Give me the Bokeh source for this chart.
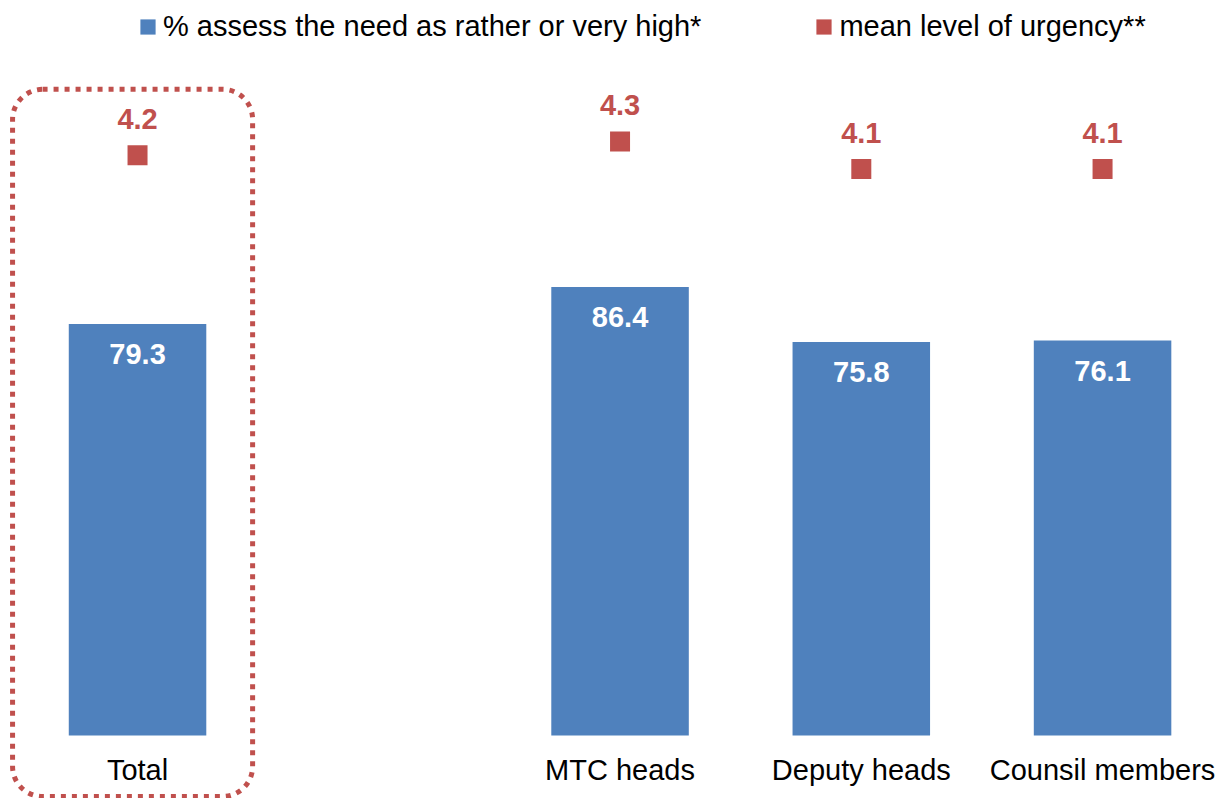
from bokeh.plotting import figure
from bokeh.models import Range1d, Legend, LegendItem, BoxAnnotation, ColumnDataSource
from bokeh.core.properties import value
from bokeh.embed import file_html
from bokeh.resources import INLINE

# Category slots (a blank slot separates the total from the breakdown)
groups = ["Total", "", "MTC heads", "Deputy heads", "Counsil members"]
bar_groups = ["Total", "MTC heads", "Deputy heads", "Counsil members"]

# % assessing the need as rather or very high
share_high = [79.3, 86.4, 75.8, 76.1]
# Mean level of urgency
urgency = [4.2, 4.3, 4.1, 4.1]

BLUE = "#4F81BD"
RED = "#C0504D"
FONT = "Liberation Sans"

# slot index of each category along the x scale
slot = {g: i for i, g in enumerate(groups)}
bar_x = [slot[g] for g in bar_groups]

p = figure(
    width=1221, height=798,
    x_range=Range1d(-0.568, 4.493),
    y_range=Range1d(-12.14, 141.62),
    x_axis_location=None, y_axis_location=None,
    output_backend="svg", toolbar_location=None,
    min_border=0, outline_line_color=None,
)
p.extra_y_ranges = {"urg": Range1d(-0.456, 5.32)}
p.grid.visible = False

src = ColumnDataSource(dict(
    x=bar_x,
    name=bar_groups,
    base=[0] * len(bar_groups),
    share=share_high,
    share_lbl=[f"{v:.1f}" for v in share_high],
    urg=urgency,
    urg_lbl=[f"{v:.1f}" for v in urgency],
))

bars = p.vbar(x="x", top="share", width=0.57, source=src,
              fill_color=BLUE, line_color=None)
p.text(x="x", y="share", text="share_lbl", source=src, y_offset=30,
       text_align="center", text_baseline="middle",
       text_color="white", text_font=value(FONT),
       text_font_style="bold", text_font_size="29px")

squares = p.rect(x="x", y="urg", width=20, height=20,
                 width_units="screen", height_units="screen",
                 source=src, y_range_name="urg",
                 fill_color=RED, line_color=None)
p.text(x="x", y="urg", text="urg_lbl", source=src, y_range_name="urg",
       y_offset=-36, text_align="center", text_baseline="middle",
       text_color=RED, text_font=value(FONT),
       text_font_style="bold", text_font_size="29px")

# category names under the baseline
p.text(x="x", y="base", text="name", source=src, y_offset=35,
       text_align="center", text_baseline="middle",
       text_color="black", text_font=value(FONT), text_font_size="29px")

# Dotted rounded frame around the total
p.add_layout(BoxAnnotation(
    left=-0.518, right=0.477, bottom=-11.75, top=124.5,
    fill_alpha=0, line_color=RED, line_alpha=1.0, line_width=5,
    line_dash="5 6", border_radius=30,
))

legend = Legend(
    items=[
        LegendItem(label="% assess the need as rather or very high*", renderers=[bars]),
        LegendItem(label="mean level of urgency**", renderers=[squares]),
    ],
    orientation="horizontal", location=(138, 755),
    glyph_width=19, glyph_height=19, label_standoff=6, spacing=113,
    padding=0, margin=0, border_line_color=None, background_fill_alpha=0,
    label_text_font=FONT, label_text_font_size="29px", label_text_color="black",
)
p.add_layout(legend, "center")

open("out.html", "w").write(file_html(p, INLINE))
